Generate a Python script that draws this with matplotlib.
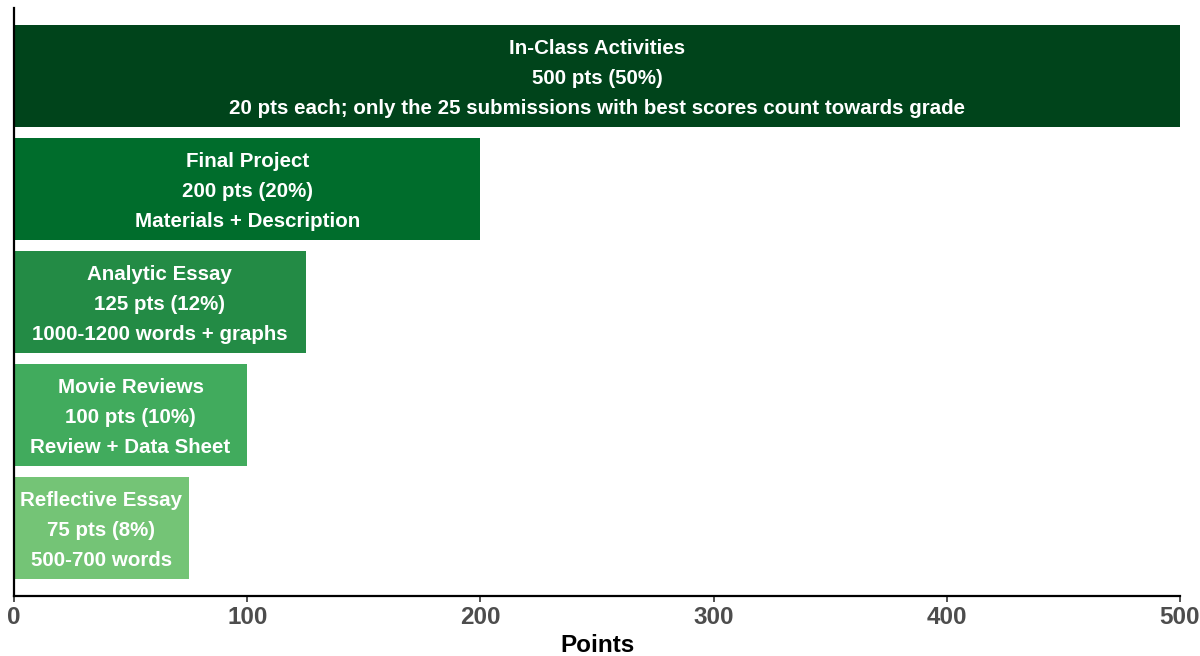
import matplotlib
matplotlib.use("Agg")
import matplotlib.pyplot as plt

categories = ["In-Class Activities", "Final Project", "Analytic Essay", "Movie Reviews", "Reflective Essay"]
points = [500, 200, 125, 100, 75]
percents = ["50%", "20%", "12%", "10%", "8%"]
details = ["20 pts each; only the 25 submissions with best scores count towards grade",
           "Materials + Description",
           "1000-1200 words + graphs",
           "Review + Data Sheet",
           "500-700 words"]
colors = ["#00441b", "#006d2c", "#238b45", "#41ab5d", "#74c476"]
xticks = [0, 100, 200, 300, 400, 500]

plt.rcParams['font.family'] = ['Liberation Sans', 'DejaVu Sans']

fig = plt.figure(figsize=(12, 6.56), dpi=100)
ax = fig.add_axes([14/1200, 1 - 596/656, (1180 - 14)/1200, (596 - 8)/656])

ypos = list(range(len(categories)))
ax.barh(ypos, points, height=0.9, color=colors, edgecolor='none')
ax.set_ylim(len(categories) - 0.4, -0.6)
ax.set_xlim(0, 500)

for y, c, p, pc, d in zip(ypos, categories, points, percents, details):
    lines = [c, f"{p} pts ({pc})", d]
    for k, t in enumerate(lines):
        ax.annotate(t, xy=(p / 2, y), xytext=(0, (1 - k) * 21.6 - 2.0), textcoords='offset points',
                    ha='center', va='center', color='white', fontsize=14.8, fontweight='bold')

ax.set_xticks(xticks)
ax.set_xticklabels([str(v) for v in xticks], fontsize=17.5, fontweight='bold', color='#4d4d4d')
ax.set_yticks([])
ax.tick_params(axis='x', length=4, width=1.2, color='#333333', pad=3)
ax.set_xlabel("Points", fontsize=17.5, fontweight='bold', color='black', labelpad=4)
for s in ['top', 'right']:
    ax.spines[s].set_visible(False)
for s in ['left', 'bottom']:
    ax.spines[s].set_linewidth(1.6)
    ax.spines[s].set_color('black')
for lbl in ax.get_xticklabels():
    lbl.set_clip_on(False)

fig.savefig("out.png", dpi=100)
